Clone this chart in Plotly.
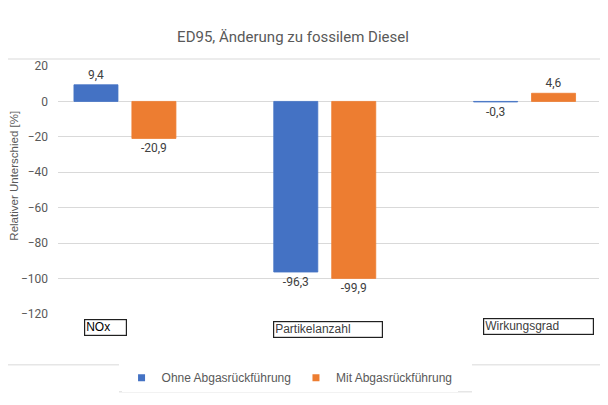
import plotly.graph_objects as go

# Werte aus dem Diagramm
kategorien = ["NOx", "Partikelanzahl", "Wirkungsgrad"]
ohne_agr = [9.4, -96.3, -0.3]
mit_agr = [-20.9, -99.9, 4.6]
y_ticks = [20, 0, -20, -40, -60, -80, -100, -120]

blau = "#4472C4"
orange = "#ED7D31"
grau = "#595959"

fig = go.Figure()
for name, werte, farbe in [("Ohne Abgasrückführung", ohne_agr, blau),
                           ("Mit Abgasrückführung", mit_agr, orange)]:
    fig.add_trace(go.Bar(x=kategorien, y=werte, name=name, marker_color=farbe,
                         marker_line=dict(color=farbe, width=0.8),
                         texttemplate="%{y:.1f}", textposition="outside",
                         cliponaxis=False, showlegend=False,
                         textfont=dict(color="#404040", size=12)))
    # kleine quadratische Legendensymbole wie im Original
    fig.add_trace(go.Scatter(x=[None], y=[None], mode="markers", name=name,
                             marker=dict(symbol="square", size=7, color=farbe)))

# Seite hat 8px Rand im Browser -> Abbildung entsprechend kleiner
fig.update_layout(
    width=600, height=397,
    margin=dict(l=50, r=9, t=57.5, b=91),
    paper_bgcolor="white", plot_bgcolor="white",
    separators=",.",
    font=dict(family="Roboto, Arial, sans-serif", color=grau, size=12),
    title=dict(text="ED95, Änderung zu fossilem Diesel", x=0.475, xanchor="center",
               y=0.927, yanchor="middle", font=dict(size=15, color=grau)),
    barmode="group", bargap=0.42, bargroupgap=0.24,
    showlegend=True,
    legend=dict(orientation="h", x=0.428, xanchor="center", y=-0.257, yanchor="middle",
                font=dict(family="Liberation Sans, Arial", size=12, color=grau),
                itemwidth=30, tracegroupgap=0),
    xaxis=dict(range=[-0.335, 2.3725], showticklabels=False, showgrid=False,
               zeroline=False, showline=False),
    yaxis=dict(range=[-120, 20], tickvals=y_ticks, showgrid=True, gridcolor="#D9D9D9",
               zeroline=True, zerolinecolor="#D9D9D9", zerolinewidth=1,
               ticks="", ticklabelstandoff=9, automargin=False),
)

# Achsentitel (etwas oberhalb der Mitte, wie im Original)
fig.add_annotation(text="Relativer Unterschied [%]", textangle=-90, xref="paper", yref="paper",
                   x=-0.0813, y=0.558, xanchor="center", yanchor="middle", showarrow=False,
                   font=dict(family="Liberation Sans, Arial", size=11.5, color=grau))

# Kategorie-Beschriftungen in Rahmen
box_pos = {"NOx": (0.0878, -0.0562, "#000000", 39),
           "Partikelanzahl": (0.499, -0.0622, "#404040", 106),
           "Wirkungsgrad": (0.888, -0.0522, "#404040", 107)}
for name in kategorien:
    bx, by, col, bw = box_pos[name]
    fig.add_annotation(text=name, xref="paper", yref="paper", x=bx, y=by,
                       xanchor="center", yanchor="middle",
                       showarrow=False, bordercolor="#202020", borderwidth=1.2,
                       borderpad=1, bgcolor="white", width=bw, height=13,
                       font=dict(family="Liberation Sans, Arial", size=12, color=col),
                       align="left", valign="bottom")

# dezente Trennlinien (wie im Original)
for x0, x1, yy in [(0, 608, 58), (0, 119, 365), (472, 608, 365), (119, 472, 392)]:
    fig.add_shape(type="line", xref="paper", yref="paper",
                  x0=(x0 - 58) / 541, x1=(x1 - 58) / 541,
                  y0=(314 - yy) / 249, y1=(314 - yy) / 249,
                  line=dict(color="#E6E6E6", width=1.5))

fig.write_html("out.html")
